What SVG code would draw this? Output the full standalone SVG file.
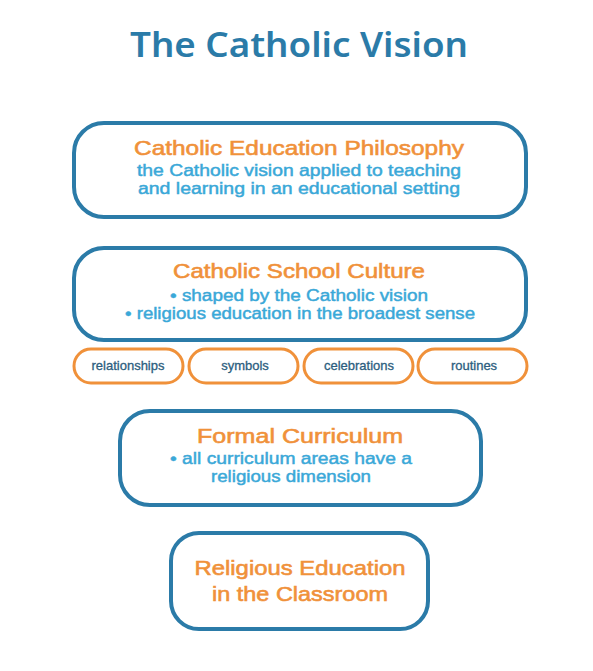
<svg xmlns="http://www.w3.org/2000/svg" width="593" height="671" viewBox="0 0 593 671">
<style>
text{font-family:"Liberation Sans",Arial,sans-serif;text-anchor:middle}
.box{fill:#fff;stroke:#2B7BA8;stroke-width:4}
.pill{fill:#fff;stroke:#F0913A;stroke-width:3}
.title{fill:#2B7BA8;font-size:35px;font-weight:600;font-family:"Noto Sans",sans-serif}
.head{fill:#F0913A;stroke:#F0913A;stroke-width:0.6;font-size:21px}
.sub{fill:#3AA8D8;stroke:#3AA8D8;stroke-width:0.45;font-size:16px}
.lbl{fill:#2C5E7E;stroke:#2C5E7E;stroke-width:0.3;font-size:13px}
</style>
<rect width="593" height="671" fill="#fff"/>
<text class="title" x="299" y="57" textLength="338" lengthAdjust="spacingAndGlyphs">The Catholic Vision</text>
<g id="philosophy">
<rect class="box" x="74" y="123" width="452" height="94" rx="30"/>
<text class="head" x="299" y="155" textLength="330" lengthAdjust="spacingAndGlyphs">Catholic Education Philosophy</text>
<text class="sub" x="299" y="176" textLength="324" lengthAdjust="spacingAndGlyphs">the Catholic vision applied to teaching</text>
<text class="sub" x="299" y="194" textLength="322" lengthAdjust="spacingAndGlyphs">and learning in an educational setting</text>
</g>
<g id="culture">
<rect class="box" x="74" y="248" width="452" height="92" rx="30"/>
<text class="head" x="299" y="278" textLength="252" lengthAdjust="spacingAndGlyphs">Catholic School Culture</text>
<text class="sub" x="299" y="301" textLength="258" lengthAdjust="spacingAndGlyphs">• shaped by the Catholic vision</text>
<text class="sub" x="300" y="319" textLength="350" lengthAdjust="spacingAndGlyphs">• religious education in the broadest sense</text>
</g>
<g id="relationships">
<rect class="pill" x="74" y="349" width="109" height="34" rx="17"/>
<text class="lbl" x="128" y="370">relationships</text>
</g>
<g id="symbols">
<rect class="pill" x="189" y="349" width="109" height="34" rx="17"/>
<text class="lbl" x="245" y="370">symbols</text>
</g>
<g id="celebrations">
<rect class="pill" x="304" y="349" width="109" height="34" rx="17"/>
<text class="lbl" x="359" y="370">celebrations</text>
</g>
<g id="routines">
<rect class="pill" x="418" y="349" width="109" height="34" rx="17"/>
<text class="lbl" x="474" y="370">routines</text>
</g>
<g id="curriculum">
<rect class="box" x="120" y="411" width="361" height="94" rx="30"/>
<text class="head" x="300" y="443" textLength="206" lengthAdjust="spacingAndGlyphs">Formal Curriculum</text>
<text class="sub" x="291" y="464" textLength="242" lengthAdjust="spacingAndGlyphs">• all curriculum areas have a</text>
<text class="sub" x="291" y="482" textLength="160" lengthAdjust="spacingAndGlyphs">religious dimension</text>
</g>
<g id="re">
<rect class="box" x="171" y="533" width="257" height="96" rx="28"/>
<text class="head" x="300" y="575" textLength="211" lengthAdjust="spacingAndGlyphs">Religious Education</text>
<text class="head" x="300" y="601" textLength="176" lengthAdjust="spacingAndGlyphs">in the Classroom</text>
</g>
</svg>
